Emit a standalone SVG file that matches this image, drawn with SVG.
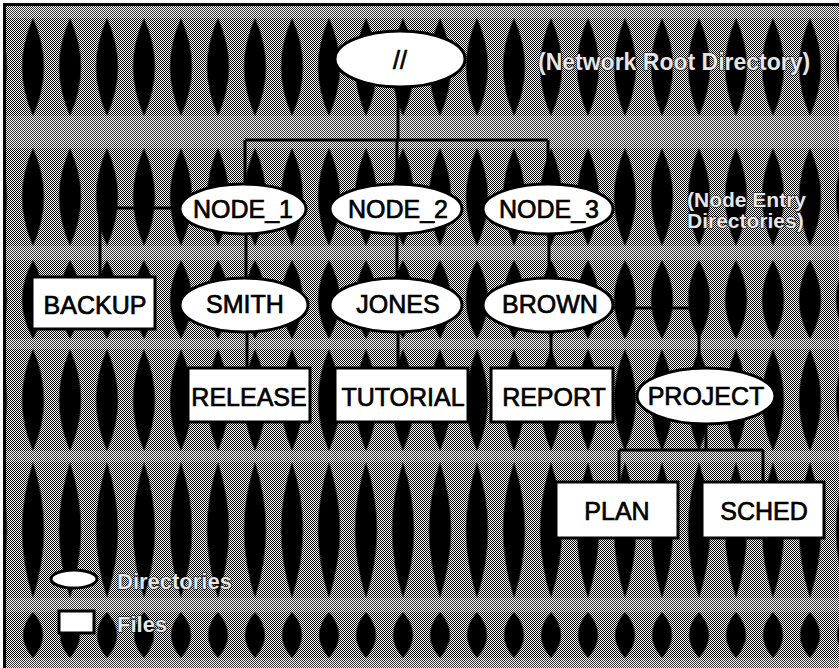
<svg xmlns="http://www.w3.org/2000/svg" width="839" height="668" viewBox="0 0 839 668">
<defs>
<pattern id="dither" width="2" height="2" patternUnits="userSpaceOnUse">
<rect width="2" height="2" fill="#fff"/><rect width="1" height="1" fill="#000"/><rect x="1" y="1" width="1" height="1" fill="#000"/>
</pattern>
<pattern id="lens" x="14.5" y="0" width="37" height="668" patternUnits="userSpaceOnUse">
<path fill="#000" d="M18.5,18 Q40.5,67 18.5,116 Q-3.5,67 18.5,18 Z M18.5,148 Q40.5,197 18.5,246 Q-3.5,197 18.5,148 Z M18.5,260 Q40.5,300 18.5,339 Q-3.5,300 18.5,260 Z M18.5,349 Q40.5,400 18.5,451 Q-3.5,400 18.5,349 Z M18.5,462 Q40.5,530 18.5,598 Q-3.5,530 18.5,462 Z M18.5,612 Q38.5,635 18.5,658 Q-1.5,635 18.5,612 Z"/>
</pattern>
<style>
.dir{fill:#fff;stroke:#000;stroke-width:3}
.file{fill:#fff;stroke:#000;stroke-width:3}
.lbl{font-family:"Liberation Sans",Arial,sans-serif;font-size:25px;fill:#000;stroke:#000;stroke-width:0.7;text-anchor:middle}
.note{font-family:"Liberation Sans",Arial,sans-serif;fill:#e6e6e6;stroke:#000;stroke-width:1.2;paint-order:stroke;font-weight:bold}
.con{fill:none;stroke:#000;stroke-width:3}
</style>
</defs>
<rect width="839" height="668" fill="#fff"/>
<g id="background" shape-rendering="crispEdges">
<rect x="6" y="6" width="833" height="662" fill="url(#dither)"/>
<g fill="#fff" opacity="0.18">
<rect x="6" y="6" width="833" height="12"/>
<rect x="6" y="116" width="833" height="32"/>
<rect x="6" y="246" width="833" height="14"/>
<rect x="6" y="339" width="833" height="10"/>
<rect x="6" y="451" width="833" height="11"/>
<rect x="6" y="598" width="833" height="14"/>
<rect x="6" y="658" width="833" height="10"/>
</g>
</g>
<rect x="6" y="6" width="833" height="662" fill="url(#lens)"/>
<rect x="3" y="3" width="836" height="3" fill="#000"/>
<rect x="3" y="3" width="3" height="665" fill="#000"/>

<g id="connectors" class="con">
<path d="M398,87 V140"/>
<path d="M245,140 H548"/>
<path d="M245,140 V186"/>
<path d="M397,140 V186"/>
<path d="M548,140 V186"/>
<path d="M180,208 H100 V277"/>
<path d="M246,234 V279"/>
<path d="M397,234 V279"/>
<path d="M549,234 V279"/>
<path d="M247,331 V368"/>
<path d="M398,331 V368"/>
<path d="M551,331 V368"/>
<path d="M612,308 H699 V369"/>
<path d="M706,424 V450"/>
<path d="M619,450 H763"/>
<path d="M619,450 V482"/>
<path d="M763,450 V482"/>
</g>

<g id="root"><ellipse class="dir" cx="400" cy="59" rx="65" ry="28"/><text class="lbl" x="400" y="69">//</text></g>
<g id="node1"><ellipse class="dir" cx="243" cy="209" rx="63" ry="25"/><text class="lbl" x="243" y="218">NODE_1</text></g>
<g id="node2"><ellipse class="dir" cx="396" cy="209" rx="66" ry="25"/><text class="lbl" x="398" y="218">NODE_2</text></g>
<g id="node3"><ellipse class="dir" cx="548" cy="209" rx="65" ry="25"/><text class="lbl" x="549" y="218">NODE_3</text></g>
<g id="backup"><rect class="file" x="32" y="277" width="123" height="52"/><text class="lbl" x="95" y="314">BACKUP</text></g>
<g id="smith"><ellipse class="dir" cx="244" cy="305" rx="64" ry="27"/><text class="lbl" x="245" y="313">SMITH</text></g>
<g id="jones"><ellipse class="dir" cx="396" cy="305" rx="66" ry="27"/><text class="lbl" x="398" y="313">JONES</text></g>
<g id="brown"><ellipse class="dir" cx="548" cy="305" rx="65" ry="27"/><text class="lbl" x="550" y="313">BROWN</text></g>
<g id="release"><rect class="file" x="188" y="368" width="122" height="54"/><text class="lbl" x="249" y="406">RELEASE</text></g>
<g id="tutorial"><rect class="file" x="335" y="368" width="133" height="54"/><text class="lbl" x="403" y="406">TUTORIAL</text></g>
<g id="report"><rect class="file" x="491" y="368" width="122" height="54"/><text class="lbl" x="554" y="406">REPORT</text></g>
<g id="project"><ellipse class="dir" cx="706" cy="396" rx="69" ry="28"/><text class="lbl" x="706" y="405">PROJECT</text></g>
<g id="plan"><rect class="file" x="556" y="482" width="122" height="56"/><text class="lbl" x="617" y="520">PLAN</text></g>
<g id="sched"><rect class="file" x="702" y="482" width="122" height="56"/><text class="lbl" x="764" y="520">SCHED</text></g>

<g id="notes">
<text class="note" x="538" y="70" font-size="23">(Network Root Directory)</text>
<text class="note" x="687" y="207" font-size="21">(Node Entry</text>
<text class="note" x="687" y="228" font-size="21">Directories)</text>
</g>
<g id="legend">
<ellipse class="dir" cx="74" cy="579" rx="23" ry="9"/>
<rect class="file" x="59" y="611" width="35" height="22"/>
<text class="note" x="117" y="589" font-size="22">Directories</text>
<text class="note" x="117" y="632" font-size="22">Files</text>
</g>
</svg>
